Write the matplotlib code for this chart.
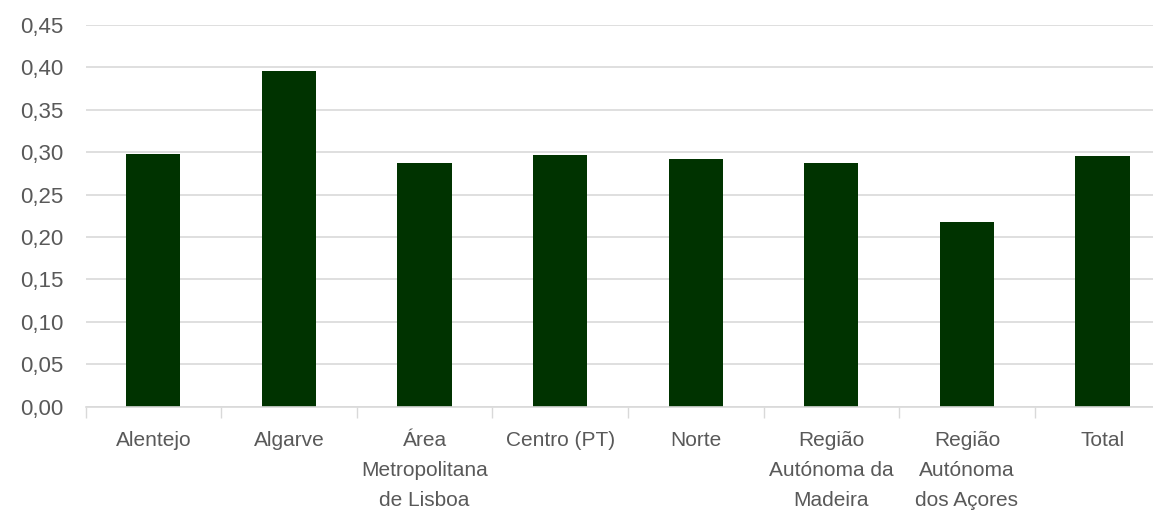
import matplotlib
matplotlib.use("Agg")
import matplotlib.pyplot as plt
from matplotlib.ticker import FixedLocator

categories = ["Alentejo", "Algarve", "Área\nMetropolitana\nde Lisboa", "Centro (PT)", "Norte",
              "Região\nAutónoma da\nMadeira", "Região\nAutónoma\ndos Açores", "Total"]
values = [0.298, 0.396, 0.287, 0.297, 0.292, 0.287, 0.218, 0.296]
yticks = [0.00, 0.05, 0.10, 0.15, 0.20, 0.25, 0.30, 0.35, 0.40, 0.45]
ytick_labels = [f"{v:.2f}".replace(".", ",") for v in yticks]

plt.rcParams['font.family'] = ['Liberation Sans', 'DejaVu Sans']

W, H = 1153, 512
fig = plt.figure(figsize=(W / 100, H / 100), dpi=100)
left, right, top, bottom = 85.5, 85.5 + 8 * 135.6, 25, 406.5
ax = fig.add_axes([left / W, 1 - bottom / H, (right - left) / W, (bottom - top) / H])

x = list(range(len(categories)))
ax.bar(x, values, width=0.4, color="#003300", zorder=3)
ax.set_xlim(-0.5, len(categories) - 0.5)
ax.set_ylim(0, 0.45)
ax.set_yticks(yticks)
ax.set_yticklabels(ytick_labels)
ax.set_xticks(x)
ax.set_xticklabels(categories, linespacing=1.7)
ax.xaxis.set_minor_locator(FixedLocator([i - 0.5 for i in range(len(categories) + 1)]))
ax.tick_params(axis='x', which='major', length=0, pad=18, labelsize=15, colors="#595959")
ax.tick_params(axis='x', which='minor', length=8, color="#d9d9d9", width=1)
ax.tick_params(axis='y', length=0, pad=16, labelsize=16, colors="#595959")
ax.grid(axis='y', color="#d9d9d9", linewidth=1.2, zorder=0)
for s in ["top", "right", "left"]:
    ax.spines[s].set_visible(False)
ax.spines["bottom"].set_color("#d9d9d9")
ax.spines["bottom"].set_linewidth(1.2)
ax.spines["bottom"].set_zorder(4)

fig.savefig("out.png", dpi=100, facecolor="white")
